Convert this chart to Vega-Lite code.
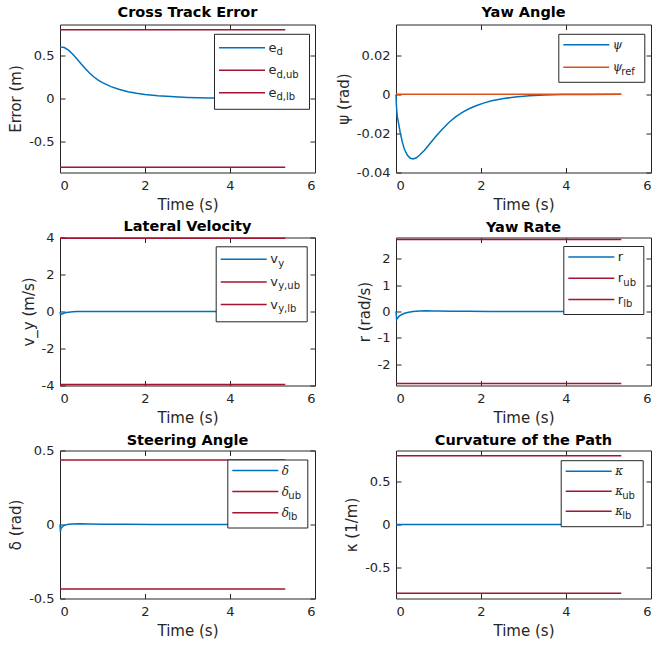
{
  "$schema": "https://vega.github.io/schema/vega-lite/v6.json",
  "padding": {"left": 8, "top": 4.5, "right": 4, "bottom": 4},
  "columns": 2,
  "spacing": {"row": 65, "column": 81},
  "bounds": "flush",
  "resolve": {
    "scale": {"color": "independent", "opacity": "independent"},
    "legend": {"color": "independent", "opacity": "independent"}
  },
  "config": {
    "font": "DejaVu Sans",
    "view": {"stroke": "#262626", "strokeWidth": 1},
    "axis": {
      "grid": false, "domain": false, "tickColor": "#262626",
      "labelColor": "#262626", "titleColor": "#262626",
      "labelFont": "DejaVu Sans", "titleFont": "DejaVu Sans",
      "labelFontSize": 13, "titleFontSize": 15, "titleFontWeight": "normal",
      "ticks": true, "tickSize": 5, "tickWidth": 1, "offset": -5
    },
    "axisBottom": {"labelPadding": 7, "titlePadding": 5},
    "axisLeft": {"labelPadding": 6, "titlePadding": 5},
    "axisTop": {"labels": false},
    "axisRight": {"labels": false},
    "title": {"font": "DejaVu Sans", "fontSize": 14.5, "fontWeight": "bold", "color": "#000000", "offset": 3.5, "frame": "group"},
    "legend": {"labelFont": "DejaVu Sans", "labelColor": "#262626", "symbolSize": 196, "symbolStrokeWidth": 1.5}
  },
  "concat": [
    {
      "title": {"text": "Cross Track Error", "offset": 3.5},
      "width": 255, "height": 148,
      "encoding": {
        "color": {"field": "s", "type": "nominal",
          "scale": {"domain": ["e_d", "e_d,ub", "e_d,lb"], "range": ["#0072BD", "#A2142F", "#A2142F"]},
          "legend": {"orient": "none", "legendX": 154, "legendY": 9.3, "title": null,
            "symbolType": "M-3.286,0H3.286M0,-0.929M8.143,0.929", "symbolOffset": 14,
            "labelExpr": "'e'", "labelFontSize": 13, "labelOffset": 18.5, "padding": 6, "rowPadding": 2.5,
            "strokeColor": "#262626", "fillColor": "#ffffff", "zindex": 1}},
        "opacity": {"field": "sub", "type": "ordinal",
          "scale": {"domain": ["d", "d,ub", "d,lb"], "range": [1, 1]},
          "legend": {"orient": "none", "legendX": 154, "legendY": 13.8, "title": null,
            "symbolType": "M-3.286,0H3.286M0,-0.929M8.143,0.929", "symbolOffset": 14,
            "symbolStrokeColor": "transparent", "symbolFillColor": "transparent",
            "labelFontSize": 10, "labelOffset": 26.5, "padding": 6, "rowPadding": 2.5, "zindex": 2}}
      },
      "layer": [
        {
          "data": {"values": [
            {"t": 0, "v": 0.6, "s": "e_d", "sub": "d"}, {"t": 0.1, "v": 0.592, "s": "e_d", "sub": "d"},
            {"t": 0.2, "v": 0.562, "s": "e_d", "sub": "d"}, {"t": 0.3, "v": 0.515, "s": "e_d", "sub": "d"},
            {"t": 0.4, "v": 0.46, "s": "e_d", "sub": "d"}, {"t": 0.5, "v": 0.402, "s": "e_d", "sub": "d"},
            {"t": 0.6, "v": 0.345, "s": "e_d", "sub": "d"}, {"t": 0.7, "v": 0.293, "s": "e_d", "sub": "d"},
            {"t": 0.8, "v": 0.25, "s": "e_d", "sub": "d"}, {"t": 0.9, "v": 0.214, "s": "e_d", "sub": "d"},
            {"t": 1.0, "v": 0.184, "s": "e_d", "sub": "d"}, {"t": 1.2, "v": 0.138, "s": "e_d", "sub": "d"},
            {"t": 1.4, "v": 0.104, "s": "e_d", "sub": "d"}, {"t": 1.6, "v": 0.079, "s": "e_d", "sub": "d"},
            {"t": 1.8, "v": 0.061, "s": "e_d", "sub": "d"}, {"t": 2.0, "v": 0.047, "s": "e_d", "sub": "d"},
            {"t": 2.3, "v": 0.032, "s": "e_d", "sub": "d"}, {"t": 2.6, "v": 0.022, "s": "e_d", "sub": "d"},
            {"t": 3.0, "v": 0.013, "s": "e_d", "sub": "d"}, {"t": 3.5, "v": 0.006, "s": "e_d", "sub": "d"},
            {"t": 4.0, "v": 0.003, "s": "e_d", "sub": "d"}, {"t": 4.5, "v": 0.0015, "s": "e_d", "sub": "d"},
            {"t": 5.0, "v": 0.0007, "s": "e_d", "sub": "d"}, {"t": 5.3, "v": 0.0005, "s": "e_d", "sub": "d"}
          ]},
          "mark": {"type": "line", "strokeWidth": 1.5},
          "encoding": {
            "x": {"field": "t", "type": "quantitative", "scale": {"domain": [0, 6], "nice": false},
              "axis": {"title": "Time (s)", "values": [0, 2, 4, 6]}},
            "y": {"field": "v", "type": "quantitative", "scale": {"domain": [-0.86, 0.86], "nice": false},
              "axis": {"title": "Error (m)", "values": [-0.5, 0, 0.5], "format": "~g", "labelExpr": "replace(datum.label, '−', '-')"}}
          }
        },
        {
          "data": {"values": [
            {"t": 0, "v": 0.8, "s": "e_d,ub", "sub": "d,ub"}, {"t": 5.3, "v": 0.8, "s": "e_d,ub", "sub": "d,ub"},
            {"t": 0, "v": -0.8, "s": "e_d,lb", "sub": "d,lb"}, {"t": 5.3, "v": -0.8, "s": "e_d,lb", "sub": "d,lb"}
          ]},
          "mark": {"type": "line", "strokeWidth": 1.5},
          "encoding": {
            "x": {"field": "t", "type": "quantitative", "scale": {"domain": [0, 6], "nice": false},
              "axis": {"orient": "top", "title": null, "values": [0, 2, 4, 6]}},
            "y": {"field": "v", "type": "quantitative", "scale": {"domain": [-0.86, 0.86], "nice": false},
              "axis": {"orient": "right", "title": null, "values": [-0.5, 0, 0.5]}}
          }
        }
      ],
      "resolve": {"scale": {"x": "independent", "y": "independent"}}
    },
    {
      "title": {"text": "Yaw Angle", "offset": 3.5},
      "width": 255, "height": 148,
      "encoding": {
        "color": {"field": "s", "type": "nominal",
          "scale": {"domain": ["psi", "psi_ref"], "range": ["#0072BD", "#D95319"]},
          "legend": {"orient": "none", "legendX": 162.3, "legendY": 9.3, "title": null,
            "symbolType": "M-3.286,0H3.286M0,-0.929M7.286,1.143", "symbolOffset": 17,
            "labelExpr": "'ψ'", "labelFont": "DejaVu Serif", "labelFontStyle": "italic", "labelFontSize": 12,
            "labelOffset": 18.5, "padding": 3, "rowPadding": 0.5,
            "strokeColor": "#262626", "fillColor": "#ffffff", "zindex": 1}},
        "opacity": {"field": "sub", "type": "ordinal",
          "scale": {"domain": ["", "ref"], "range": [1, 1]},
          "legend": {"orient": "none", "legendX": 162.3, "legendY": 13.8, "title": null,
            "symbolType": "M-3.286,0H3.286M0,-0.929M7.286,1.143", "symbolOffset": 17,
            "symbolStrokeColor": "transparent", "symbolFillColor": "transparent",
            "labelFontSize": 10, "labelOffset": 27, "padding": 3, "rowPadding": 0.5, "zindex": 2}}
      },
      "layer": [
        {
          "data": {"values": [
            {"t": 0, "v": 0, "s": "psi", "sub": ""}, {"t": 0.01, "v": -0.006, "s": "psi", "sub": ""},
            {"t": 0.03, "v": -0.0115, "s": "psi", "sub": ""}, {"t": 0.06, "v": -0.0148, "s": "psi", "sub": ""},
            {"t": 0.1, "v": -0.0198, "s": "psi", "sub": ""}, {"t": 0.15, "v": -0.0245, "s": "psi", "sub": ""},
            {"t": 0.2, "v": -0.0283, "s": "psi", "sub": ""}, {"t": 0.27, "v": -0.0312, "s": "psi", "sub": ""},
            {"t": 0.33, "v": -0.0326, "s": "psi", "sub": ""}, {"t": 0.4, "v": -0.0331, "s": "psi", "sub": ""},
            {"t": 0.47, "v": -0.0326, "s": "psi", "sub": ""}, {"t": 0.55, "v": -0.0312, "s": "psi", "sub": ""},
            {"t": 0.67, "v": -0.0286, "s": "psi", "sub": ""}, {"t": 0.8, "v": -0.0252, "s": "psi", "sub": ""},
            {"t": 0.95, "v": -0.0212, "s": "psi", "sub": ""}, {"t": 1.1, "v": -0.0176, "s": "psi", "sub": ""},
            {"t": 1.25, "v": -0.0143, "s": "psi", "sub": ""}, {"t": 1.41, "v": -0.0115, "s": "psi", "sub": ""},
            {"t": 1.57, "v": -0.0092, "s": "psi", "sub": ""}, {"t": 1.73, "v": -0.0073, "s": "psi", "sub": ""},
            {"t": 1.9, "v": -0.0058, "s": "psi", "sub": ""}, {"t": 2.04, "v": -0.0047, "s": "psi", "sub": ""},
            {"t": 2.25, "v": -0.0034, "s": "psi", "sub": ""}, {"t": 2.5, "v": -0.0023, "s": "psi", "sub": ""},
            {"t": 2.8, "v": -0.0014, "s": "psi", "sub": ""}, {"t": 3.14, "v": -0.0008, "s": "psi", "sub": ""},
            {"t": 3.5, "v": -0.0004, "s": "psi", "sub": ""}, {"t": 3.92, "v": -0.0002, "s": "psi", "sub": ""},
            {"t": 4.5, "v": -0.0001, "s": "psi", "sub": ""}, {"t": 5.3, "v": 0, "s": "psi", "sub": ""}
          ]},
          "mark": {"type": "line", "strokeWidth": 1.5},
          "encoding": {
            "x": {"field": "t", "type": "quantitative", "scale": {"domain": [0, 6], "nice": false},
              "axis": {"title": "Time (s)", "values": [0, 2, 4, 6]}},
            "y": {"field": "v", "type": "quantitative", "scale": {"domain": [-0.04, 0.0356], "nice": false},
              "axis": {"title": "ψ (rad)", "values": [-0.04, -0.02, 0, 0.02], "format": "~g", "labelExpr": "replace(datum.label, '−', '-')"}}
          }
        },
        {
          "data": {"values": [
            {"t": 0, "v": 0, "s": "psi_ref", "sub": "ref"}, {"t": 5.3, "v": 0, "s": "psi_ref", "sub": "ref"}
          ]},
          "mark": {"type": "line", "strokeWidth": 1.5},
          "encoding": {
            "x": {"field": "t", "type": "quantitative", "scale": {"domain": [0, 6], "nice": false},
              "axis": {"orient": "top", "title": null, "values": [0, 2, 4, 6]}},
            "y": {"field": "v", "type": "quantitative", "scale": {"domain": [-0.04, 0.0356], "nice": false},
              "axis": {"orient": "right", "title": null, "values": [-0.04, -0.02, 0, 0.02]}}
          }
        }
      ],
      "resolve": {"scale": {"x": "independent", "y": "independent"}}
    },
    {
      "title": {"text": "Lateral Velocity", "offset": -2.5},
      "width": 255, "height": 148,
      "encoding": {
        "color": {"field": "s", "type": "nominal",
          "scale": {"domain": ["v_y", "v_y,ub", "v_y,lb"], "range": ["#0072BD", "#A2142F", "#A2142F"]},
          "legend": {"orient": "none", "legendX": 155.7, "legendY": 8.8, "title": null,
            "symbolType": "M-3.286,0H3.286M0,-0.929M7.857,1.143", "symbolOffset": 15,
            "labelExpr": "'v'", "labelFontSize": 13, "labelOffset": 18.5, "padding": 5, "rowPadding": 0.6,
            "strokeColor": "#262626", "fillColor": "#ffffff", "zindex": 1}},
        "opacity": {"field": "sub", "type": "ordinal",
          "scale": {"domain": ["y", "y,ub", "y,lb"], "range": [1, 1]},
          "legend": {"orient": "none", "legendX": 155.7, "legendY": 13.3, "title": null,
            "symbolType": "M-3.286,0H3.286M0,-0.929M7.857,1.143", "symbolOffset": 15,
            "symbolStrokeColor": "transparent", "symbolFillColor": "transparent",
            "labelFontSize": 10, "labelOffset": 26.5, "padding": 5, "rowPadding": 0.6, "zindex": 2}}
      },
      "layer": [
        {
          "data": {"values": [
            {"t": 0, "v": -0.03, "s": "v_y", "sub": "y"}, {"t": 0.01, "v": -0.14, "s": "v_y", "sub": "y"},
            {"t": 0.03, "v": -0.15, "s": "v_y", "sub": "y"}, {"t": 0.06, "v": -0.12, "s": "v_y", "sub": "y"},
            {"t": 0.1, "v": -0.085, "s": "v_y", "sub": "y"}, {"t": 0.15, "v": -0.055, "s": "v_y", "sub": "y"},
            {"t": 0.2, "v": -0.035, "s": "v_y", "sub": "y"}, {"t": 0.3, "v": -0.015, "s": "v_y", "sub": "y"},
            {"t": 0.4, "v": -0.005, "s": "v_y", "sub": "y"}, {"t": 0.55, "v": 0.002, "s": "v_y", "sub": "y"},
            {"t": 0.8, "v": 0.004, "s": "v_y", "sub": "y"}, {"t": 1.2, "v": 0.002, "s": "v_y", "sub": "y"},
            {"t": 2.0, "v": 0, "s": "v_y", "sub": "y"}, {"t": 5.3, "v": 0, "s": "v_y", "sub": "y"}
          ]},
          "mark": {"type": "line", "strokeWidth": 1.5},
          "encoding": {
            "x": {"field": "t", "type": "quantitative", "scale": {"domain": [0, 6], "nice": false},
              "axis": {"title": "Time (s)", "values": [0, 2, 4, 6]}},
            "y": {"field": "v", "type": "quantitative", "scale": {"domain": [-4, 4], "nice": false},
              "axis": {"title": "v_y (m/s)", "values": [-4, -2, 0, 2, 4], "format": "~g", "labelExpr": "replace(datum.label, '−', '-')"}}
          }
        },
        {
          "data": {"values": [
            {"t": 0, "v": 3.96, "s": "v_y,ub", "sub": "y,ub"}, {"t": 5.3, "v": 3.96, "s": "v_y,ub", "sub": "y,ub"},
            {"t": 0, "v": -3.94, "s": "v_y,lb", "sub": "y,lb"}, {"t": 5.3, "v": -3.94, "s": "v_y,lb", "sub": "y,lb"}
          ]},
          "mark": {"type": "line", "strokeWidth": 1.5},
          "encoding": {
            "x": {"field": "t", "type": "quantitative", "scale": {"domain": [0, 6], "nice": false},
              "axis": {"orient": "top", "title": null, "values": [0, 2, 4, 6]}},
            "y": {"field": "v", "type": "quantitative", "scale": {"domain": [-4, 4], "nice": false},
              "axis": {"orient": "right", "title": null, "values": [-4, -2, 0, 2, 4]}}
          }
        }
      ],
      "resolve": {"scale": {"x": "independent", "y": "independent"}}
    },
    {
      "title": {"text": "Yaw Rate", "offset": 1.5},
      "width": 255, "height": 148,
      "encoding": {
        "color": {"field": "s", "type": "nominal",
          "scale": {"domain": ["r", "r_ub", "r_lb"], "range": ["#0072BD", "#A2142F", "#A2142F"]},
          "legend": {"orient": "none", "legendX": 167.3, "legendY": 8.5, "title": null,
            "symbolType": "M-3.286,0H3.286M0,-0.929M6.571,1.143", "symbolOffset": 17,
            "labelExpr": "'r'", "labelFontSize": 13, "labelOffset": 18.5, "padding": 3, "rowPadding": -0.7,
            "strokeColor": "#262626", "fillColor": "#ffffff", "zindex": 1}},
        "opacity": {"field": "sub", "type": "ordinal",
          "scale": {"domain": ["", "ub", "lb"], "range": [1, 1]},
          "legend": {"orient": "none", "legendX": 167.3, "legendY": 13, "title": null,
            "symbolType": "M-3.286,0H3.286M0,-0.929M6.571,1.143", "symbolOffset": 17,
            "symbolStrokeColor": "transparent", "symbolFillColor": "transparent",
            "labelFontSize": 10, "labelOffset": 24, "padding": 3, "rowPadding": -0.7, "zindex": 2}}
      },
      "layer": [
        {
          "data": {"values": [
            {"t": 0, "v": 0, "s": "r", "sub": ""}, {"t": 0.015, "v": -0.3, "s": "r", "sub": ""},
            {"t": 0.03, "v": -0.27, "s": "r", "sub": ""}, {"t": 0.06, "v": -0.2, "s": "r", "sub": ""},
            {"t": 0.1, "v": -0.15, "s": "r", "sub": ""}, {"t": 0.15, "v": -0.105, "s": "r", "sub": ""},
            {"t": 0.22, "v": -0.06, "s": "r", "sub": ""}, {"t": 0.3, "v": -0.025, "s": "r", "sub": ""},
            {"t": 0.4, "v": 0, "s": "r", "sub": ""}, {"t": 0.55, "v": 0.018, "s": "r", "sub": ""},
            {"t": 0.7, "v": 0.024, "s": "r", "sub": ""}, {"t": 0.85, "v": 0.022, "s": "r", "sub": ""},
            {"t": 1.0, "v": 0.018, "s": "r", "sub": ""}, {"t": 1.3, "v": 0.011, "s": "r", "sub": ""},
            {"t": 1.7, "v": 0.005, "s": "r", "sub": ""}, {"t": 2.2, "v": 0.002, "s": "r", "sub": ""},
            {"t": 3.0, "v": 0, "s": "r", "sub": ""}, {"t": 5.3, "v": 0, "s": "r", "sub": ""}
          ]},
          "mark": {"type": "line", "strokeWidth": 1.5},
          "encoding": {
            "x": {"field": "t", "type": "quantitative", "scale": {"domain": [0, 6], "nice": false},
              "axis": {"title": "Time (s)", "values": [0, 2, 4, 6]}},
            "y": {"field": "v", "type": "quantitative", "scale": {"domain": [-2.8, 2.8], "nice": false},
              "axis": {"title": "r (rad/s)", "values": [-2, -1, 0, 1, 2], "format": "~g", "labelExpr": "replace(datum.label, '−', '-')"}}
          }
        },
        {
          "data": {"values": [
            {"t": 0, "v": 2.72, "s": "r_ub", "sub": "ub"}, {"t": 5.3, "v": 2.72, "s": "r_ub", "sub": "ub"},
            {"t": 0, "v": -2.72, "s": "r_lb", "sub": "lb"}, {"t": 5.3, "v": -2.72, "s": "r_lb", "sub": "lb"}
          ]},
          "mark": {"type": "line", "strokeWidth": 1.5},
          "encoding": {
            "x": {"field": "t", "type": "quantitative", "scale": {"domain": [0, 6], "nice": false},
              "axis": {"orient": "top", "title": null, "values": [0, 2, 4, 6]}},
            "y": {"field": "v", "type": "quantitative", "scale": {"domain": [-2.8, 2.8], "nice": false},
              "axis": {"orient": "right", "title": null, "values": [-2, -1, 0, 1, 2]}}
          }
        }
      ],
      "resolve": {"scale": {"x": "independent", "y": "independent"}}
    },
    {
      "title": {"text": "Steering Angle", "offset": -3.5},
      "width": 255, "height": 148,
      "encoding": {
        "color": {"field": "s", "type": "nominal",
          "scale": {"domain": ["delta", "delta_ub", "delta_lb"], "range": ["#0072BD", "#A2142F", "#A2142F"]},
          "legend": {"orient": "none", "legendX": 167.3, "legendY": 9, "title": null,
            "symbolType": "M-3.286,0H3.286M0,-0.929M6.571,1.143", "symbolOffset": 17,
            "labelExpr": "'δ'", "labelFont": "DejaVu Serif", "labelFontStyle": "italic", "labelFontSize": 12,
            "labelOffset": 18.5, "padding": 3, "rowPadding": -0.9,
            "strokeColor": "#262626", "fillColor": "#ffffff", "zindex": 1}},
        "opacity": {"field": "sub", "type": "ordinal",
          "scale": {"domain": ["", "ub", "lb"], "range": [1, 1]},
          "legend": {"orient": "none", "legendX": 167.3, "legendY": 13.5, "title": null,
            "symbolType": "M-3.286,0H3.286M0,-0.929M6.571,1.143", "symbolOffset": 17,
            "symbolStrokeColor": "transparent", "symbolFillColor": "transparent",
            "labelFontSize": 10, "labelOffset": 25, "padding": 3, "rowPadding": -0.9, "zindex": 2}}
      },
      "layer": [
        {
          "data": {"values": [
            {"t": 0, "v": 0, "s": "delta", "sub": ""}, {"t": 0.01, "v": -0.05, "s": "delta", "sub": ""},
            {"t": 0.02, "v": -0.03, "s": "delta", "sub": ""}, {"t": 0.04, "v": -0.02, "s": "delta", "sub": ""},
            {"t": 0.07, "v": -0.011, "s": "delta", "sub": ""}, {"t": 0.12, "v": -0.004, "s": "delta", "sub": ""},
            {"t": 0.2, "v": 0.001, "s": "delta", "sub": ""}, {"t": 0.3, "v": 0.004, "s": "delta", "sub": ""},
            {"t": 0.45, "v": 0.005, "s": "delta", "sub": ""}, {"t": 0.7, "v": 0.004, "s": "delta", "sub": ""},
            {"t": 1.0, "v": 0.0025, "s": "delta", "sub": ""}, {"t": 1.5, "v": 0.001, "s": "delta", "sub": ""},
            {"t": 2.2, "v": 0, "s": "delta", "sub": ""}, {"t": 5.3, "v": 0, "s": "delta", "sub": ""}
          ]},
          "mark": {"type": "line", "strokeWidth": 1.5},
          "encoding": {
            "x": {"field": "t", "type": "quantitative", "scale": {"domain": [0, 6], "nice": false},
              "axis": {"title": "Time (s)", "values": [0, 2, 4, 6]}},
            "y": {"field": "v", "type": "quantitative", "scale": {"domain": [-0.5, 0.5], "nice": false},
              "axis": {"title": "δ (rad)", "values": [-0.5, 0, 0.5], "format": "~g", "labelExpr": "replace(datum.label, '−', '-')"}}
          }
        },
        {
          "data": {"values": [
            {"t": 0, "v": 0.436, "s": "delta_ub", "sub": "ub"}, {"t": 5.3, "v": 0.436, "s": "delta_ub", "sub": "ub"},
            {"t": 0, "v": -0.436, "s": "delta_lb", "sub": "lb"}, {"t": 5.3, "v": -0.436, "s": "delta_lb", "sub": "lb"}
          ]},
          "mark": {"type": "line", "strokeWidth": 1.5},
          "encoding": {
            "x": {"field": "t", "type": "quantitative", "scale": {"domain": [0, 6], "nice": false},
              "axis": {"orient": "top", "title": null, "values": [0, 2, 4, 6]}},
            "y": {"field": "v", "type": "quantitative", "scale": {"domain": [-0.5, 0.5], "nice": false},
              "axis": {"orient": "right", "title": null, "values": [-0.5, 0, 0.5]}}
          }
        }
      ],
      "resolve": {"scale": {"x": "independent", "y": "independent"}}
    },
    {
      "title": {"text": "Curvature of the Path", "offset": 1.5},
      "width": 255, "height": 148,
      "encoding": {
        "color": {"field": "s", "type": "nominal",
          "scale": {"domain": ["kappa", "kappa_ub", "kappa_lb"], "range": ["#0072BD", "#A2142F", "#A2142F"]},
          "legend": {"orient": "none", "legendX": 164.7, "legendY": 9.7, "title": null,
            "symbolType": "M-3.286,0H3.286M0,-0.929M6.857,1.143", "symbolOffset": 17,
            "labelExpr": "'κ'", "labelFont": "DejaVu Serif", "labelFontStyle": "italic", "labelFontSize": 12,
            "labelOffset": 18.5, "padding": 3, "rowPadding": -2,
            "strokeColor": "#262626", "fillColor": "#ffffff", "zindex": 1}},
        "opacity": {"field": "sub", "type": "ordinal",
          "scale": {"domain": ["", "ub", "lb"], "range": [1, 1]},
          "legend": {"orient": "none", "legendX": 164.7, "legendY": 14.2, "title": null,
            "symbolType": "M-3.286,0H3.286M0,-0.929M6.857,1.143", "symbolOffset": 17,
            "symbolStrokeColor": "transparent", "symbolFillColor": "transparent",
            "labelFontSize": 10, "labelOffset": 25.5, "padding": 3, "rowPadding": -2, "zindex": 2}}
      },
      "layer": [
        {
          "data": {"values": [
            {"t": 0, "v": 0, "s": "kappa", "sub": ""}, {"t": 5.3, "v": 0, "s": "kappa", "sub": ""}
          ]},
          "mark": {"type": "line", "strokeWidth": 1.5},
          "encoding": {
            "x": {"field": "t", "type": "quantitative", "scale": {"domain": [0, 6], "nice": false},
              "axis": {"title": "Time (s)", "values": [0, 2, 4, 6]}},
            "y": {"field": "v", "type": "quantitative", "scale": {"domain": [-0.86, 0.86], "nice": false},
              "axis": {"title": "κ (1/m)", "values": [-0.5, 0, 0.5], "format": "~g", "labelExpr": "replace(datum.label, '−', '-')"}}
          }
        },
        {
          "data": {"values": [
            {"t": 0, "v": 0.8, "s": "kappa_ub", "sub": "ub"}, {"t": 5.3, "v": 0.8, "s": "kappa_ub", "sub": "ub"},
            {"t": 0, "v": -0.8, "s": "kappa_lb", "sub": "lb"}, {"t": 5.3, "v": -0.8, "s": "kappa_lb", "sub": "lb"}
          ]},
          "mark": {"type": "line", "strokeWidth": 1.5},
          "encoding": {
            "x": {"field": "t", "type": "quantitative", "scale": {"domain": [0, 6], "nice": false},
              "axis": {"orient": "top", "title": null, "values": [0, 2, 4, 6]}},
            "y": {"field": "v", "type": "quantitative", "scale": {"domain": [-0.86, 0.86], "nice": false},
              "axis": {"orient": "right", "title": null, "values": [-0.5, 0, 0.5]}}
          }
        }
      ],
      "resolve": {"scale": {"x": "independent", "y": "independent"}}
    }
  ]
}
